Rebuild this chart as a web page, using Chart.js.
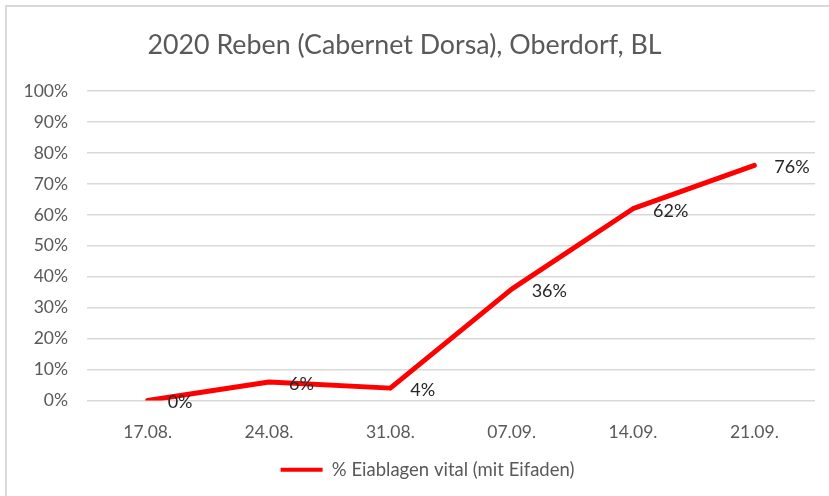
<!DOCTYPE html>
<html>
<head>
<meta charset="utf-8">
<script src="https://cdn.jsdelivr.net/npm/chart.js@4.4.1/dist/chart.umd.min.js"></script>
<style>
    html, body { margin: 0; padding: 0; background: #fff; overflow: hidden; }
    #wrap { position: relative; width: 829px; height: 496px; }
    #frame {
        position: absolute; left: 5px; top: 5px; width: 900px; height: 600px;
        border-left: 2px solid #d9d9d9; border-top: 2px solid #d9d9d9;
        pointer-events: none;
    }
</style>
</head>
<body>
<div id="wrap">
    <canvas id="chart" width="829" height="496"></canvas>
    <div id="frame"></div>
</div>
<script>
const titleText = '2020 Reben (Cabernet Dorsa), Oberdorf, BL';
const dates = ['17.08.', '24.08.', '31.08.', '07.09.', '14.09.', '21.09.'];
const vitalPct = [0, 6, 4, 36, 62, 76];
const seriesName = '% Eiablagen vital (mit Eifaden)';

const FONT = 'Lato, "Open Sans", sans-serif';

// labels to the right of each point, like Excel's "right" position
const pointLabels = {
    id: 'pointLabels',
    afterDatasetsDraw(chart) {
        const ctx = chart.ctx;
        const meta = chart.getDatasetMeta(0);
        ctx.save();
        ctx.font = '18px ' + FONT;
        ctx.fillStyle = '#262626';
        ctx.textAlign = 'left';
        ctx.textBaseline = 'middle';
        meta.data.forEach((pt, i) => {
            ctx.fillText(vitalPct[i] + '%', pt.x + 20, pt.y + 2);
        });
        ctx.restore();
    }
};

// Excel centres title and legend a bit differently
const nudge = {
    id: 'nudge',
    afterLayout(chart) {
        chart.titleBlock.left -= 3;
        chart.titleBlock.right -= 3;
        chart.legend.left += 20;
        chart.legend.right += 20;
    }
};

new Chart(document.getElementById('chart'), {
    type: 'line',
    data: {
        labels: dates,
        datasets: [{
            label: seriesName,
            data: vitalPct,
            borderColor: '#ff0000',
            backgroundColor: '#ff0000',
            borderWidth: 5,
            borderJoinStyle: 'round',
            borderCapStyle: 'round',
            pointRadius: 0,
            tension: 0
        }]
    },
    options: {
        responsive: false,
        animation: false,
        layout: { padding: { left: 0, right: 14, top: 0, bottom: 7 } },
        plugins: {
            title: {
                display: true,
                text: titleText,
                color: '#595959',
                font: { family: FONT, size: 26.8, weight: 'normal' },
                padding: { top: 29, bottom: 30 }
            },
            legend: {
                position: 'bottom',
                labels: {
                    color: '#595959',
                    font: { family: FONT, size: 18.5 },
                    boxWidth: 42,
                    boxHeight: 4,
                    padding: 10,
                    generateLabels: () => [{
                        text: seriesName,
                        fillStyle: '#ff0000',
                        strokeStyle: '#ff0000',
                        lineWidth: 0,
                        fontColor: '#595959',
                        datasetIndex: 0
                    }]
                }
            },
            tooltip: { enabled: false }
        },
        scales: {
            x: {
                offset: true,
                grid: { display: false, drawTicks: false },
                border: { display: false },
                ticks: {
                    color: '#595959',
                    font: { family: FONT, size: 17.5 },
                    padding: 21
                },
                afterFit(scale) { scale.height = 50; }
            },
            y: {
                min: 0,
                max: 100,
                grid: { color: '#d9d9d9', lineWidth: 1.5, drawTicks: false },
                border: { display: false },
                ticks: {
                    stepSize: 10,
                    color: '#595959',
                    font: { family: FONT, size: 17.5 },
                    padding: 19,
                    callback: v => v + '%'
                },
                afterFit(scale) { scale.width = 87; }
            }
        }
    },
    plugins: [pointLabels, nudge]
});
</script>
</body>
</html>
